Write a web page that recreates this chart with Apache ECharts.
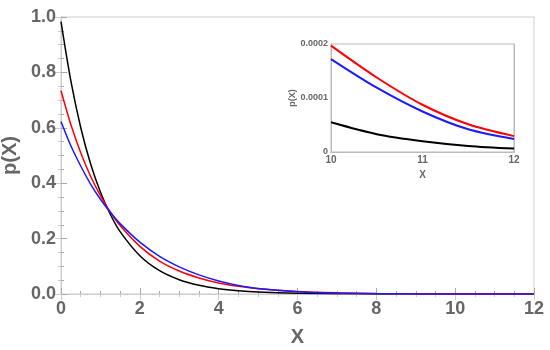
<!DOCTYPE html>
<html><head><meta charset="utf-8">
<script src="https://cdn.jsdelivr.net/npm/echarts@6/dist/echarts.min.js"></script>
<style>html,body{margin:0;padding:0;background:#fff}#c{width:550px;height:350px}</style>
</head><body><div id="c"></div>
<script>
var xs = [0,0.25,0.5,0.75,1,1.25,1.5,2,2.5,3,3.5,4,4.5,5,6,7,8,9,10,10.5,11,11.5,12];
var blackVals = [0.983,0.769,0.601,0.470,0.368,0.288,0.225,0.138,0.084,0.0515,0.0315,0.0193,0.0118,0.0072,0.0027,0.0010,0.00038,0.00014,0.000055,0.000033,0.000020,0.0000113,0.0000064];
var redVals   = [0.734,0.612,0.510,0.425,0.355,0.296,0.247,0.172,0.119,0.083,0.058,0.040,0.028,0.019,0.0092,0.0044,0.0018,0.0006,0.000197,0.000138,0.0000875,0.0000513,0.0000294];
var blueVals  = [0.623,0.535,0.462,0.397,0.342,0.295,0.254,0.187,0.136,0.098,0.069,0.047,0.031,0.020,0.0085,0.0033,0.0012,0.00045,0.000172,0.000119,0.000075,0.000042,0.000024];
var mainXTicks = [0,2,4,6,8,10,12];
var mainYTicks = [0.0,0.2,0.4,0.6,0.8,1.0];
var insetXTicks = [10,11,12];
var insetYTicks = [0,0.0001,0.0002];

function pairs(vals, xmin){
  var out=[];
  for(var i=0;i<xs.length;i++){ if(xs[i]>=xmin) out.push([xs[i], vals[i]]); }
  return out;
}
var grey='#666', axisGrey='#aaa';
var F='Liberation Sans, Arial, sans-serif';
var chart = echarts.init(document.getElementById('c'), null, {renderer:'canvas'});
var option = {
  animation:false,
  grid:[
    {left:61,right:16,top:17,bottom:56,outerBoundsMode:'none',containLabel:false,show:true,borderColor:'#ccc',borderWidth:1},
    {left:331,right:36,top:44,bottom:198,outerBoundsMode:'none',containLabel:false,show:true,backgroundColor:'#fff',borderColor:'#bbb',borderWidth:1}
  ],
  xAxis:[
    {gridIndex:0,type:'value',min:0,max:12,interval:2,position:'bottom',
     name:'X',nameLocation:'middle',nameGap:33,nameTextStyle:{color:grey,fontSize:20,fontWeight:'bold',fontFamily:F},
     axisLine:{show:true,lineStyle:{color:axisGrey,width:1}},
     axisTick:{show:true,inside:true,length:6,lineStyle:{color:axisGrey}},
     minorTick:{show:true,splitNumber:4,length:3,lineStyle:{color:axisGrey}},
     axisLabel:{color:grey,fontSize:18,fontWeight:'bold',fontFamily:F,margin:6,formatter:function(v){return mainXTicks.indexOf(v)>=0?String(v):'';}},
     splitLine:{show:false}},
    {gridIndex:0,type:'value',min:0,max:12,interval:2,position:'top',
     axisLine:{show:true,lineStyle:{color:'#ccc',width:1}},
     axisTick:{show:true,inside:true,length:6,lineStyle:{color:'#ccc'}},
     minorTick:{show:true,splitNumber:4,length:3,lineStyle:{color:'#ccc'}},
     axisLabel:{show:false},splitLine:{show:false}},
    {gridIndex:1,type:'value',min:10,max:12,interval:1,
     name:'X',nameLocation:'middle',nameGap:18,nameTextStyle:{color:grey,fontSize:10,fontWeight:'bold',fontFamily:F},
     axisLine:{show:true,lineStyle:{color:'#bbb'}},axisTick:{show:false},
     axisLabel:{color:grey,fontSize:10,fontWeight:'bold',fontFamily:F,margin:3},splitLine:{show:false}},
    {gridIndex:1,type:'value',min:10,max:12,position:'top',
     axisLine:{show:true,lineStyle:{color:'#bbb'}},axisTick:{show:false},axisLabel:{show:false},splitLine:{show:false}}
  ],
  yAxis:[
    {gridIndex:0,type:'value',min:0,max:1,interval:0.2,position:'left',
     name:'p(X)',nameLocation:'middle',nameGap:34,nameRotate:90,nameTextStyle:{color:grey,fontSize:20,fontWeight:'bold',fontFamily:F},
     axisLine:{show:true,lineStyle:{color:axisGrey,width:1}},
     axisTick:{show:true,inside:true,length:6,lineStyle:{color:axisGrey}},
     minorTick:{show:true,splitNumber:4,length:3,lineStyle:{color:axisGrey}},
     axisLabel:{color:grey,fontSize:18,fontWeight:'bold',fontFamily:F,margin:5,formatter:function(v){return v.toFixed(1);}},
     splitLine:{show:false}},
    {gridIndex:0,type:'value',min:0,max:1,interval:0.2,position:'right',
     axisLine:{show:true,lineStyle:{color:'#ccc',width:1}},
     axisTick:{show:true,inside:true,length:6,lineStyle:{color:'#ccc'}},
     minorTick:{show:true,splitNumber:4,length:3,lineStyle:{color:'#ccc'}},
     axisLabel:{show:false},splitLine:{show:false}},
    {gridIndex:1,type:'value',min:0,max:0.0002,interval:0.0001,
     name:'p(X)',nameLocation:'middle',nameGap:32,nameRotate:90,nameTextStyle:{color:grey,fontSize:9,fontWeight:'bold',fontFamily:F},
     axisLine:{show:true,lineStyle:{color:'#bbb'}},axisTick:{show:false},
     axisLabel:{color:grey,fontSize:9,fontWeight:'bold',fontFamily:F,margin:3,formatter:function(v){return v===0?'0':(v.toFixed(4));}},
     splitLine:{show:false}},
    {gridIndex:1,type:'value',min:0,max:0.0002,position:'right',
     axisLine:{show:true,lineStyle:{color:'#bbb'}},axisTick:{show:false},axisLabel:{show:false},splitLine:{show:false}}
  ],
  series:[
    {type:'line',xAxisIndex:0,yAxisIndex:0,data:pairs(blackVals,0),smooth:0.3,showSymbol:false,lineStyle:{color:'#000',width:1.5},z:3},
    {type:'line',xAxisIndex:0,yAxisIndex:0,data:pairs(redVals,0),smooth:0.3,showSymbol:false,lineStyle:{color:'#ff0000',width:1.5},z:4},
    {type:'line',xAxisIndex:0,yAxisIndex:0,data:pairs(blueVals,0),smooth:0.3,showSymbol:false,lineStyle:{color:'#1a1aff',width:1.5},z:5},
    {type:'line',xAxisIndex:2,yAxisIndex:2,data:pairs(blackVals,10),smooth:0.3,showSymbol:false,lineStyle:{color:'#000',width:2},z:10},
    {type:'line',xAxisIndex:2,yAxisIndex:2,data:pairs(redVals,10),smooth:0.3,showSymbol:false,lineStyle:{color:'#ff0000',width:2},z:10},
    {type:'line',xAxisIndex:2,yAxisIndex:2,data:pairs(blueVals,10),smooth:0.3,showSymbol:false,lineStyle:{color:'#1a1aff',width:2},z:10}
  ]
};
chart.setOption(option);
</script></body></html>
